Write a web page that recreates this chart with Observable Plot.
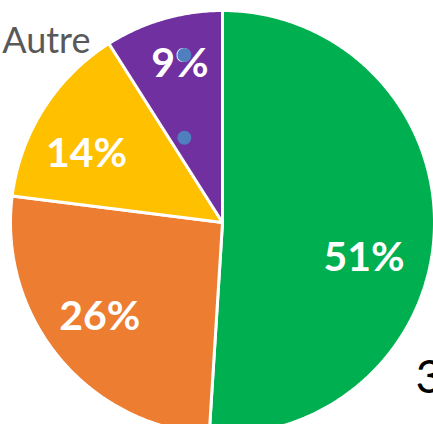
<!DOCTYPE html>
<html>
<head>
<meta charset="utf-8">
<script src="https://cdn.jsdelivr.net/npm/d3@7"></script>
<script src="https://cdn.jsdelivr.net/npm/@observablehq/plot@0.6"></script>
<style>
  html, body { margin: 0; padding: 0; background: #ffffff; overflow: hidden; }
  #chart svg { display: block; }
</style>
</head>
<body>
<div id="chart"></div>
<script>
// ---- data ----
const slices = ["Vert", "Orange", "Jaune", "Autre"];
const values = [51, 26, 14, 9];
const valueLabels = ["51%", "26%", "14%", "9%"];
const outsideLabel = "Autre";
const sideText = "3";
// two marker points seen inside the purple slice (pie unit coordinates)
const markerX = [-0.18, -0.18];
const markerY = [0.79, 0.40];

// ---- style / layout ----
const colors = ["#00B050", "#ED7D31", "#FFC000", "#7030A0"];
const W = 433, H = 424;
const CX = 222, CY = 222, R = 212;       // pie centre and radius in pixels
const labelRadius = 0.72;
const labelNudge = [[-11, 31], [-5, -3], [-7, 13], [0, -12]];

// ---- build slice polygons via d3.pie ----
const pie = d3.pie().sort(null).value(d => d)(values);
const polys = pie.map((p, i) => {
  const pts = [{x: 0, y: 0}];
  const n = Math.max(8, Math.ceil((p.endAngle - p.startAngle) / 0.01));
  for (let k = 0; k <= n; k++) {
    const a = p.startAngle + (p.endAngle - p.startAngle) * k / n;
    pts.push({x: Math.sin(a), y: Math.cos(a)});
  }
  return pts;
});
const labelPts = pie.map((p, i) => {
  const a = (p.startAngle + p.endAngle) / 2;
  return {x: labelRadius * Math.sin(a), y: labelRadius * Math.cos(a), text: valueLabels[i]};
});
const markers = markerX.map((x, i) => ({x, y: markerY[i]}));

const marks = [];
polys.forEach((pts, i) => {
  marks.push(Plot.line(pts, {
    x: "x", y: "y", curve: "linear-closed",
    fill: colors[i], stroke: "white", strokeWidth: 3, strokeLinejoin: "miter"
  }));
});
labelPts.forEach((d, i) => {
  marks.push(Plot.text([d], {
    x: "x", y: "y", text: "text",
    fill: "white", fontSize: 41, fontWeight: "bold", fontFamily: "Lato",
    dx: labelNudge[i][0], dy: labelNudge[i][1]
  }));
});
marks.push(Plot.dot(markers, {x: "x", y: "y", r: 7, fill: "#4F7FBF", stroke: null}));
marks.push(Plot.text([outsideLabel], {
  frameAnchor: "top-left", lineAnchor: "middle", text: d => d, textAnchor: "end",
  dx: 90, dy: 41, fontSize: 36, fontFamily: "Lato", fill: "#595959"
}));
marks.push(Plot.text([sideText], {
  frameAnchor: "top-left", lineAnchor: "middle", text: d => d, textAnchor: "start",
  dx: 415, dy: 377, fontSize: 47, fontFamily: "Lato", fill: "#000000"
}));

const chart = Plot.plot({
  width: W, height: H,
  margin: 0,
  x: {domain: [-CX / R, (W - CX) / R], axis: null},
  y: {domain: [-(H - CY) / R, CY / R], axis: null},
  style: {background: "white", overflow: "hidden"},
  marks
});
document.getElementById("chart").appendChild(chart);
</script>
</body>
</html>
